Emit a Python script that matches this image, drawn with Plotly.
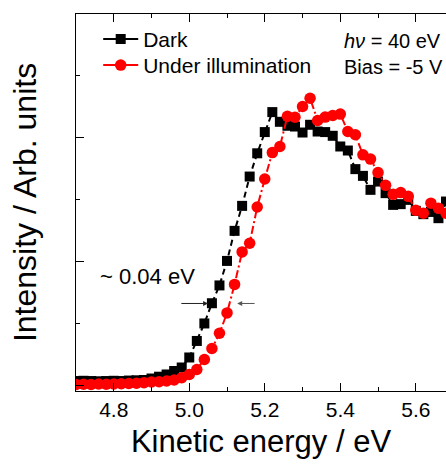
import plotly.graph_objects as go

# Kinetic energy grid (eV)
energy = [4.70, 4.72, 4.74, 4.76, 4.78, 4.80, 4.82, 4.84, 4.86, 4.88,
          4.90, 4.92, 4.94, 4.96, 4.98, 5.00, 5.02, 5.04, 5.06, 5.08,
          5.10, 5.12, 5.14, 5.16, 5.18, 5.20, 5.22, 5.24, 5.26, 5.28,
          5.30, 5.32, 5.34, 5.36, 5.38, 5.40, 5.42, 5.44, 5.46, 5.48,
          5.50, 5.52, 5.54, 5.56, 5.58, 5.60, 5.62, 5.64, 5.66, 5.68]

# Intensity (arb. units), dark
dark = [0.066, 0.070, 0.066, 0.062, 0.066, 0.070, 0.066, 0.074, 0.078, 0.083,
        0.107, 0.136, 0.172, 0.228, 0.285, 0.447, 0.714, 0.997, 1.324, 1.612,
        2.008, 2.494, 2.898, 3.372, 3.748, 4.091, 4.414, 4.257, 4.193, 4.181,
        4.084, 4.209, 4.100, 4.091, 4.031, 3.858, 3.793, 3.492, 3.383, 3.157,
        3.291, 3.104, 2.914, 2.926, 2.995, 2.817, 2.764, 2.800, 2.699, 2.968]

# Intensity (arb. units), under illumination
illum = [0.010, 0.014, 0.010, 0.018, 0.014, 0.018, 0.022, 0.026, 0.030, 0.040,
         0.050, 0.055, 0.066, 0.083, 0.120, 0.172, 0.252, 0.414, 0.592, 0.838,
         1.167, 1.628, 2.154, 2.294, 2.879, 3.332, 3.759, 3.858, 4.346, 4.330,
         4.505, 4.638, 4.278, 4.333, 4.359, 4.382, 4.100, 4.047, 3.723, 3.654,
         3.437, 3.230, 3.084, 3.113, 3.052, 2.828, 2.780, 2.942, 2.861, 2.780]

series_names = ["Dark", "Under illumination"]

FONT = "Arial, Liberation Sans, sans-serif"

fig = go.Figure()

fig.add_trace(go.Scatter(
    x=energy, y=dark, mode="lines+markers", showlegend=False,
    line=dict(color="black", width=2, dash="6px,4px"),
    marker=dict(symbol="square", size=10, color="black"),
))
fig.add_trace(go.Scatter(
    x=energy, y=illum, mode="lines+markers", showlegend=False,
    line=dict(color="#ff0000", width=2, dash="8px,3px,2px,3px"),
    marker=dict(symbol="circle", size=11.5, color="#ff0000"),
))

# legend samples (solid lines as in the reference legend)
fig.add_trace(go.Scatter(
    x=[None], y=[None], mode="lines+markers", name=series_names[0], legend="legend",
    line=dict(color="black", width=2),
    marker=dict(symbol="square", size=10, color="black"),
))
fig.add_trace(go.Scatter(
    x=[None], y=[None], mode="lines+markers", name=series_names[1], legend="legend2",
    line=dict(color="#ff0000", width=2),
    marker=dict(symbol="circle", size=11.5, color="#ff0000"),
))

legend_common = dict(xanchor="left", yanchor="top", bgcolor="rgba(0,0,0,0)", borderwidth=0,
                     font=dict(family=FONT, size=21, color="black"), itemwidth=35)

fig.update_layout(
    width=446, height=466,
    margin=dict(l=76, r=0, t=14, b=75),
    paper_bgcolor="white", plot_bgcolor="white",
    font=dict(family=FONT, color="black", size=21),
    showlegend=True,
    legend=dict(x=0.06, y=0.987, **legend_common),
    legend2=dict(x=0.06, y=0.918, **legend_common),
    xaxis=dict(
        range=[4.70, 5.68], tick0=4.8, dtick=0.2, tickformat=".1f",
        ticks="inside", ticklen=8, tickwidth=1.3, tickcolor="black",
        minor=dict(ticks="inside", ticklen=4, dtick=0.1, tickwidth=1.3, tickcolor="black"),
        showline=True, linecolor="black", linewidth=1.3, mirror="ticks",
        showgrid=False, zeroline=False,
        tickfont=dict(family=FONT, size=21, color="black"),
        title=dict(text="Kinetic energy / eV", font=dict(family=FONT, size=31, color="black"), standoff=9),
    ),
    yaxis=dict(
        range=[-0.095, 6.0], tick0=0, dtick=2,
        ticks="inside", ticklen=8, tickwidth=1.3, tickcolor="black",
        minor=dict(ticks="inside", ticklen=4, dtick=1, tickwidth=1.3, tickcolor="black"),
        showline=True, linecolor="black", linewidth=1.3, mirror=False,
        showgrid=False, zeroline=False, showticklabels=False,
        title=dict(text="Intensity / Arb. units", font=dict(family=FONT, size=32, color="black"), standoff=28),
    ),
)

fig.add_annotation(xref="paper", yref="paper", x=0.718, y=0.929, xanchor="left", yanchor="middle",
                   text="<i>hν</i> = 40 eV", showarrow=False, font=dict(family=FONT, size=20))
fig.add_annotation(xref="paper", yref="paper", x=0.718, y=0.860, xanchor="left", yanchor="middle",
                   text="Bias = -5 V", showarrow=False, font=dict(family=FONT, size=20))
fig.add_annotation(xref="paper", yref="paper", x=0.0595, y=0.305, xanchor="left", yanchor="middle",
                   text="~ 0.04 eV", showarrow=False, font=dict(family=FONT, size=22))

# shift arrows
fig.add_annotation(x=5.05, y=1.32, ax=4.975, ay=1.32, xref="x", yref="y", axref="x", ayref="y",
                   text="", showarrow=True, arrowhead=2, arrowsize=1, arrowwidth=1,
                   arrowcolor="#222222", standoff=0, startstandoff=0)
fig.add_annotation(x=5.127, y=1.32, ax=5.177, ay=1.32, xref="x", yref="y", axref="x", ayref="y",
                   text="", showarrow=True, arrowhead=2, arrowsize=1, arrowwidth=1,
                   arrowcolor="#555555", standoff=0, startstandoff=0)

fig.write_html("out.html")
